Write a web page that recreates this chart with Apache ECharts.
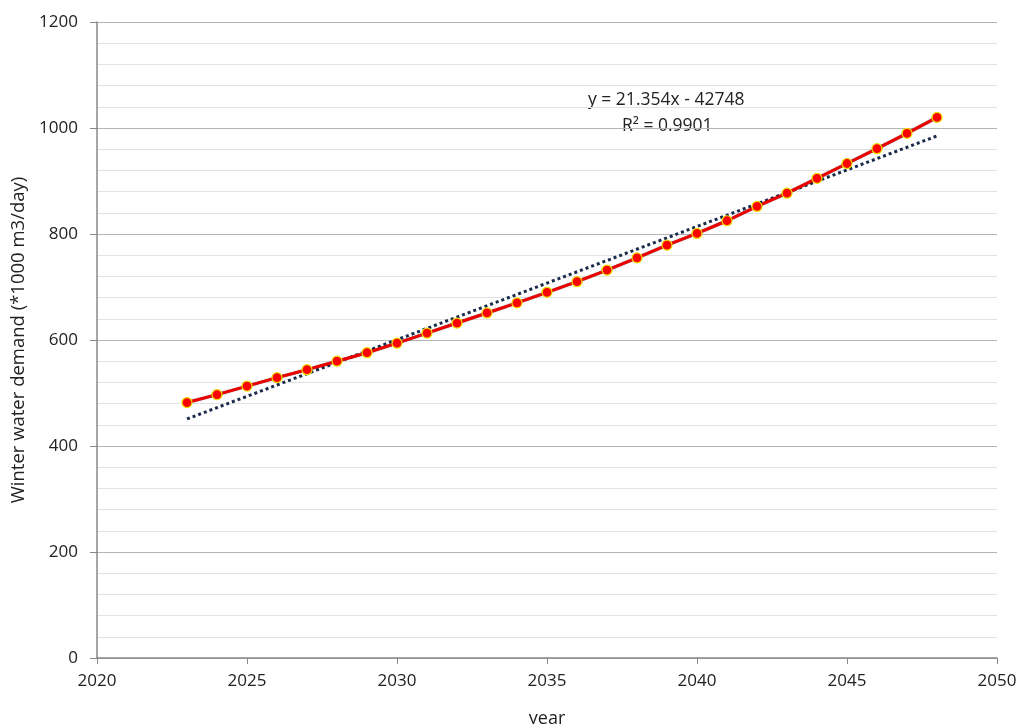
<!DOCTYPE html>
<html><head><meta charset="utf-8">
<script src="https://cdn.jsdelivr.net/npm/echarts@6/dist/echarts.min.js"></script>
<style>html,body{margin:0;padding:0;background:#fff}#c{width:1017px;height:724px}</style>
</head><body><div id="c"></div>
<script>
var years = [2023,2024,2025,2026,2027,2028,2029,2030,2031,2032,2033,2034,2035,2036,2037,2038,2039,2040,2041,2042,2043,2044,2045,2046,2047,2048];
var demand = [482,497,513,529,544,560,576,594,613,632,651,670,690,710,732,755,779,801,825,852,877,905,933,961,990,1020];
var trendYears = [2023, 2048];
var trendValues = [451, 985];
var xTicks = [2020, 2050, 5];
var yTicks = [0, 1200, 200];
var eqText = 'y = 21.354x - 42748';
var r2Text = 'R² = 0.9901';

var font = '"Open Sans", "Noto Sans", sans-serif';
var plain = function (v) { return String(v); };
var chart = echarts.init(document.getElementById('c'));
chart.setOption({
  animation: false,
  backgroundColor: '#fff',
  grid: {left: 97, right: 20, top: 22, bottom: 66, outerBoundsMode: 'none', containLabel: false},
  xAxis: {
    type: 'value', min: xTicks[0], max: xTicks[1], interval: xTicks[2],
    name: 'year', nameLocation: 'middle', nameGap: 52,
    nameTextStyle: {fontFamily: font, fontSize: 18, color: '#222'},
    axisLine: {show: true, lineStyle: {color: '#888', width: 1.5}},
    axisTick: {show: true, length: 6, lineStyle: {color: '#888'}},
    axisLabel: {fontFamily: font, fontSize: 17, color: '#222', margin: 15, formatter: plain},
    splitLine: {show: false}
  },
  yAxis: {
    type: 'value', min: yTicks[0], max: yTicks[1], interval: yTicks[2],
    name: 'Winter water demand (*1000 m3/day)', nameLocation: 'middle', nameGap: 67,
    nameTextStyle: {fontFamily: font, fontSize: 18.5, color: '#222'},
    axisLine: {show: true, lineStyle: {color: '#888', width: 1.5}},
    axisTick: {show: true, length: 7, lineStyle: {color: '#888'}},
    axisLabel: {fontFamily: font, fontSize: 17, color: '#222', margin: 19, formatter: plain},
    splitLine: {show: true, lineStyle: {color: '#b4b4b4', width: 1}},
    minorTick: {show: false, splitNumber: 5},
    minorSplitLine: {show: true, lineStyle: {color: '#e2e2e2', width: 1}}
  },
  series: [
    {
      type: 'line', z: 2,
      data: trendYears.map(function (x, i) { return [x, trendValues[i]]; }),
      showSymbol: false, symbol: 'none',
      lineStyle: {color: '#1a2a4a', width: 3, type: [3, 3]}
    },
    {
      type: 'line', z: 3,
      data: years.map(function (x, i) { return [x, demand[i]]; }),
      symbol: 'circle', symbolSize: 10,
      itemStyle: {color: '#ff0000', borderColor: '#e8e000', borderWidth: 1.2},
      lineStyle: {color: '#ee0000', width: 3, shadowColor: 'rgba(0,0,0,0.6)', shadowBlur: 1}
    }
  ],
  graphic: [
    {type: 'text', left: 588, top: 91, style: {text: eqText, font: '17.5px ' + font, fill: '#222'}},
    {type: 'text', left: 622, top: 117, style: {text: r2Text, font: '17.5px ' + font, fill: '#222'}}
  ]
});
</script></body></html>
